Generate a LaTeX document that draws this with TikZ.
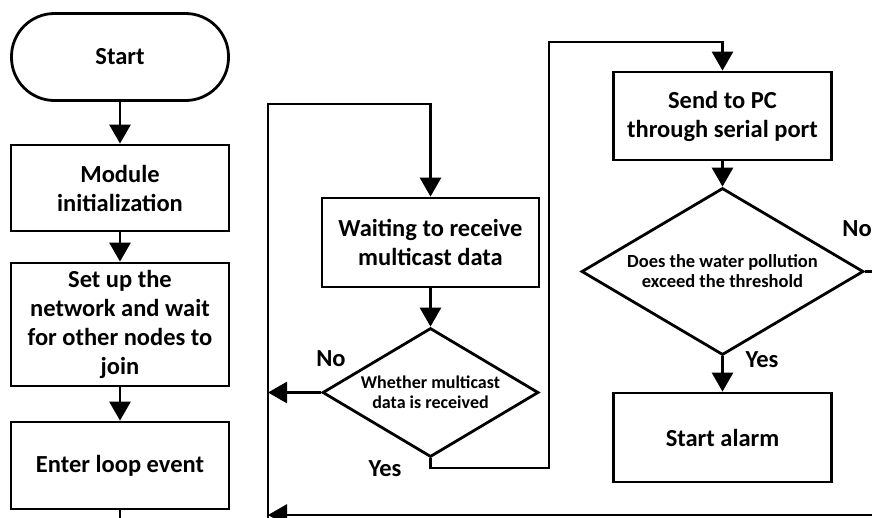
\documentclass[tikz,border=0pt]{standalone}
\usepackage{fontspec}
\setmainfont{Carlito}
\usetikzlibrary{shapes.geometric,arrows.meta}
\begin{document}
\begin{tikzpicture}[x=1pt,y=-1pt,
 lw/.style={line width=2.8pt},
 box/.style={draw,lw,rectangle,minimum width=218pt,align=center,inner sep=2pt,font=\bfseries\fontsize{24.5}{29}\selectfont},
 term/.style={box,rounded corners=43pt,minimum width=217pt,minimum height=87pt},
 dec/.style={draw,lw,diamond,aspect=1.7,align=center,inner sep=0pt,font=\bfseries\fontsize{18}{20}\selectfont},
 arr/.style={lw,-{Triangle[width=21pt,length=19pt]}},
 con/.style={lw},
 lab/.style={font=\bfseries\fontsize{24.5}{29}\selectfont,inner sep=0pt}]
\useasboundingbox (0,0) rectangle (872,517);
% nodes
\node[term] (start) at (120,57) {Start};
\node[box,minimum height=86pt] (mod) at (120,188) {Module\\initialization};
\node[box,minimum height=123pt] (setup) at (120,324.5) {Set up the\\network and wait\\for other nodes to\\join};
\node[box,minimum height=87pt] (enter) at (120,465.5) {Enter loop event};
\node[box,minimum width=217pt,minimum height=89pt] (wait) at (430.5,242.5) {Waiting to receive\\multicast data};
\node[dec,minimum width=216pt,minimum height=129pt] (d1) at (430.5,392.5) {Whether multicast\\data is received};
\node[box,minimum height=88pt] (send) at (722.5,116) {Send to PC\\through serial port};
\node[dec,minimum width=282pt,minimum height=167pt,font=\bfseries\fontsize{18.5}{20}\selectfont] (d2) at (722.5,271.5) {Does the water pollution\\exceed the threshold};
\node[box,minimum height=89pt] (alarm) at (722.5,437.5) {Start alarm};
% labels
\node[lab] (no1) at (331,359) {No};
\node[lab] (yes1) at (385,469) {Yes};
\node[lab] (no2) at (857,229) {No};
\node[lab] (yes2) at (762,360) {Yes};
% coordinates
\coordinate (eb) at (120,519.2);
\coordinate (lb) at (268,519.2);
\coordinate (br) at (880,515);
\coordinate (bl) at (268,515);
\coordinate (tl) at (268,104);
\coordinate (tm) at (430.5,104);
\coordinate (nl) at (268,392.5);
\coordinate (y1) at (430.5,468);
\coordinate (y2) at (549,468);
\coordinate (y3) at (549,42);
\coordinate (y4) at (722.5,42);
\coordinate (dr) at (880,271.5);
% connectors
\draw[arr] (start) -- (mod);
\draw[arr] (mod) -- (setup);
\draw[arr] (setup) -- (enter);
\draw[con] (enter.south) -- (eb) -- (lb);
\draw[arr] (br) -- (bl);
\draw[arr] (lb) -- (tl) -- (tm) -- (wait.north);
\draw[arr] (wait) -- (d1);
\draw[arr] (d1.west) -- (nl);
\draw[arr] (d1.south) -- (y1) -- (y2) -- (y3) -- (y4) -- (send.north);
\draw[arr] (send) -- (d2);
\draw[arr] (d2) -- (alarm);
\draw[con] (d2.east) -- (dr);
\end{tikzpicture}
\end{document}
